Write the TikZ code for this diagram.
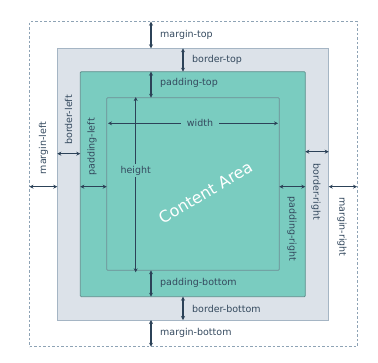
\documentclass[tikz,border=0pt]{standalone}
\usepackage{fontspec}
\setmainfont{DejaVu Sans}
\usetikzlibrary{arrows.meta}
\definecolor{dashc}{HTML}{8EA3B5}
\definecolor{bordfill}{HTML}{DCE2E9}
\definecolor{bordline}{HTML}{A5B5C4}
\definecolor{tealc}{HTML}{7ACCC0}
\definecolor{padline}{HTML}{5E8F8C}
\definecolor{contline}{HTML}{6E8E95}
\definecolor{arrc}{HTML}{2C4258}
\definecolor{txtc}{HTML}{34495E}
\tikzset{
  boxbase/.style={rectangle, inner sep=0pt, outer sep=0pt, anchor=north west},
  dimarrow/.style={draw=arrc, line width=1.4pt, {Stealth[length=4pt,width=4pt]}-{Stealth[length=4pt,width=4pt]}},
  lbl/.style={text=txtc, font=\fontsize{9.5}{11}\selectfont, inner sep=1pt},
}
\begin{document}
\begin{tikzpicture}[x=1pt,y=-1pt]
\useasboundingbox (0,0) rectangle (378,362);
% boxes
\node[boxbase, draw=dashc, dashed, dash pattern=on 2.5pt off 2pt, line width=0.7pt, minimum width=327.5pt, minimum height=325pt] (margin) at (29.5,21.7) {};
\node[boxbase, draw=bordline, fill=bordfill, line width=0.8pt, minimum width=271.4pt, minimum height=271.7pt] (border) at (57.3,48.3) {};
\node[boxbase, draw=padline, fill=tealc, line width=0.8pt, rounded corners=1pt, minimum width=225pt, minimum height=225pt] (padding) at (80.3,71.7) {};
\node[boxbase, draw=contline, fill=tealc, line width=0.8pt, rounded corners=1pt, minimum width=172.6pt, minimum height=172.6pt] (content) at (106.7,97.7) {};
% coordinates for arrow positions
\coordinate (cx1) at (151,0);
\coordinate (cx2) at (183,0);
\coordinate (ry1) at (0,186.7);
\coordinate (ry2) at (0,153.7);
\coordinate (ry3) at (0,151.7);
% top
\draw[dimarrow] (margin.north -| cx1) -- (border.north -| cx1);
\node[lbl, anchor=west] (tm) at (159,34.5) {margin-top};
\draw[dimarrow] (border.north -| cx2) -- (padding.north -| cx2);
\node[lbl, anchor=west] (tb) at (191,60) {border-top};
\draw[dimarrow] (padding.north -| cx1) -- (content.north -| cx1);
\node[lbl, anchor=west] (tp) at (159,83) {padding-top};
% bottom
\draw[dimarrow] (content.south -| cx1) -- (padding.south -| cx1);
\node[lbl, anchor=west] (bp) at (159,283) {padding-bottom};
\draw[dimarrow] (padding.south -| cx2) -- (border.south -| cx2);
\node[lbl, anchor=west] (bb) at (191,308.5) {border-bottom};
\draw[dimarrow] (border.south -| cx1) -- (margin.south -| cx1);
\node[lbl, anchor=west] (bm) at (159,333) {margin-bottom};
% left
\draw[dimarrow] (margin.west |- ry1) -- (border.west |- ry1);
\node[lbl, rotate=90] (lm) at (43.5,148) {margin-left};
\draw[dimarrow] (border.west |- ry2) -- (padding.west |- ry2);
\node[lbl, rotate=90] (lb) at (68.5,120) {border-left};
\draw[dimarrow] (padding.west |- ry1) -- (content.west |- ry1);
\node[lbl, rotate=90] (lp) at (92,147) {padding-left};
% right
\draw[dimarrow] (content.east |- ry1) -- (padding.east |- ry1);
\node[lbl, rotate=-90] (rp) at (292,229) {padding-right};
\draw[dimarrow] (padding.east |- ry3) -- (border.east |- ry3);
\node[lbl, rotate=-90] (rb) at (316,192) {border-right};
\draw[dimarrow] (border.east |- ry1) -- (margin.east |- ry1);
\node[lbl, rotate=-90] (rm) at (342,227) {margin-right};
% width and height
\coordinate (wy) at (0,123.3);
\coordinate (hx) at (135.7,0);
\draw[dimarrow] ([xshift=1.3pt]content.west |- wy) -- ([xshift=-1.3pt]content.east |- wy);
\draw[dimarrow] ([yshift=0.6pt]content.north -| hx) -- ([yshift=-2pt]content.south -| hx);
\node[lbl, fill=tealc, inner xsep=6pt, inner ysep=1pt] (wl) at (200,123.3) {width};
\node[lbl, fill=tealc, inner xsep=1pt, inner ysep=2pt] (hl) at (135.7,170.5) {height};
\node[text=white, rotate=30.5, font=\fontsize{16}{18}\selectfont, inner sep=0pt] (ca) at (205.5,192.5) {Content Area};
\end{tikzpicture}
\end{document}
